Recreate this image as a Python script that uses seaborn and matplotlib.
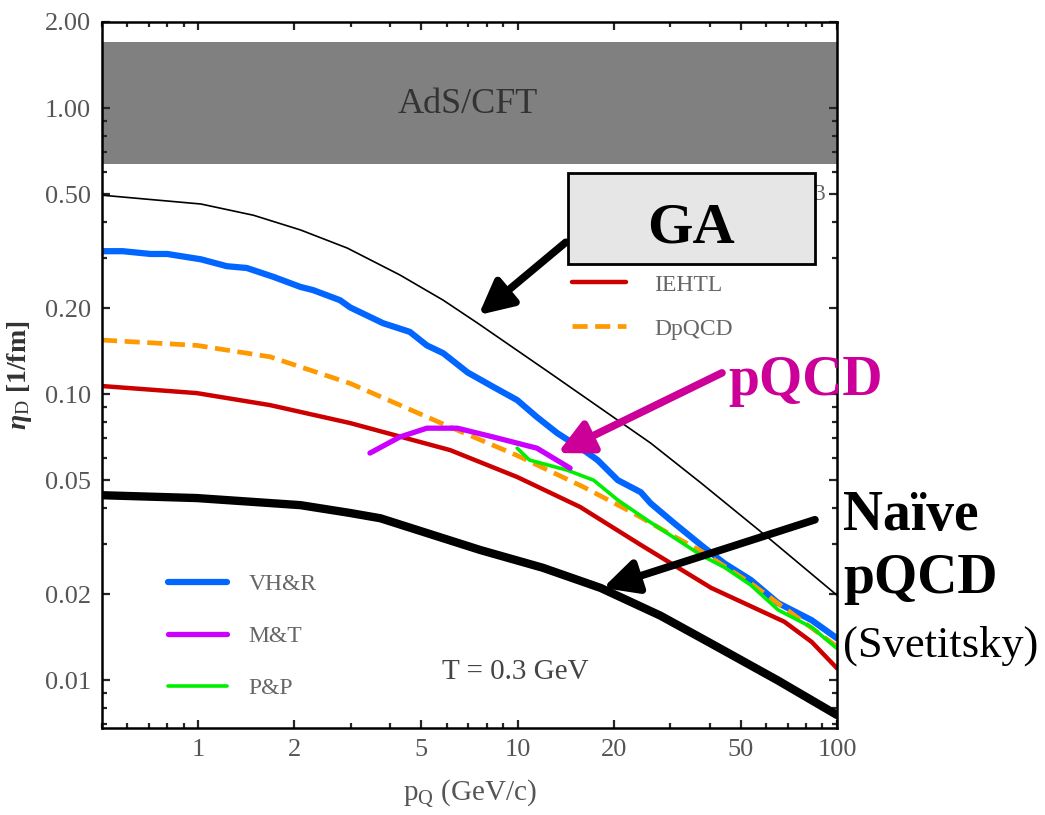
import pandas as pd
import matplotlib.pyplot as plt
import seaborn as sns
from matplotlib.ticker import FixedLocator, NullFormatter, LogLocator
from matplotlib.patches import Rectangle
from matplotlib.transforms import blended_transform_factory

# valores (p_Q em GeV/c, eta_D em 1/fm)
ga_x = [0.5, 1.02, 1.49, 2.09, 2.93, 4.28, 5.85, 7.5, 12.7, 26.1, 37.6, 62.1, 100]
ga_y = [0.496, 0.462, 0.422, 0.375, 0.324, 0.261, 0.213, 0.177, 0.118, 0.0674, 0.0488, 0.0309, 0.0198]

vhr_x = [0.5, 0.58, 0.71, 0.8, 1.02, 1.23, 1.42, 1.72, 2.09, 2.29, 2.78, 2.99, 3.79, 4.6, 5.2,
         5.85, 6.98, 8.39, 9.97, 11.5, 13.3, 16.1, 17.8, 20.6, 24.3, 26.1, 30.9, 37.6, 44.4,
         53.7, 65.4, 83.3, 100]
vhr_y = [0.316, 0.316, 0.309, 0.309, 0.296, 0.280, 0.276, 0.257, 0.237, 0.231, 0.213, 0.201,
         0.177, 0.165, 0.148, 0.139, 0.119, 0.106, 0.0953, 0.0831, 0.0731, 0.0637, 0.0588,
         0.050, 0.0454, 0.0415, 0.0354, 0.0296, 0.0256, 0.0224, 0.0186, 0.0162, 0.0140]

iehtl_x = [0.5, 0.99, 1.68, 2.99, 6.15, 9.97, 15.7, 24.3, 40.4, 68.4, 83.3, 100]
iehtl_y = [0.1067, 0.1008, 0.0915, 0.0792, 0.0637, 0.0513, 0.0403, 0.0297, 0.0210, 0.0160, 0.0136, 0.0110]

dpqcd_x = [0.5, 0.99, 1.68, 2.99, 6.15, 9.97, 16.1, 23.0, 30.9, 37.6, 53.7, 100]
dpqcd_y = [0.1545, 0.148, 0.135, 0.109, 0.0767, 0.061, 0.0473, 0.0384, 0.0318, 0.0282, 0.0218, 0.0131]

pp_x = [9.97, 10.9, 14.3, 17.3, 20.6, 25.5, 37.6, 44.4, 53.7, 65.4, 83.3, 100]
pp_y = [0.0647, 0.0588, 0.0542, 0.050, 0.0426, 0.0362, 0.0273, 0.0248, 0.0215, 0.0176, 0.0153, 0.0129]

mt_x = [3.45, 4.28, 5.2, 6.48, 8.39, 11.5, 14.6]
mt_y = [0.0622, 0.0708, 0.076, 0.076, 0.0708, 0.0647, 0.0551]

naive_x = [0.5, 0.99, 2.09, 2.99, 3.72, 7.64, 12.0, 18.2, 28.0, 40.0, 65.0, 100]
naive_y = [0.0443, 0.0433, 0.0409, 0.0384, 0.0368, 0.0285, 0.0247, 0.0210, 0.0168, 0.0135, 0.0100, 0.00755]

ads_lo, ads_hi = 0.637, 1.70
x_ticks = [1, 2, 5, 10, 20, 50, 100]
y_ticks = [0.01, 0.02, 0.05, 0.10, 0.20, 0.50, 1.00, 2.00]
y_tick_labels = ["0.01", "0.02", "0.05", "0.10", "0.20", "0.50", "1.00", "2.00"]

curvas = [("GA", ga_x, ga_y), ("VH&R", vhr_x, vhr_y), ("IEHTL", iehtl_x, iehtl_y),
          ("DpQCD", dpqcd_x, dpqcd_y), ("P&P", pp_x, pp_y), ("M&T", mt_x, mt_y),
          ("Naive", naive_x, naive_y)]
df = pd.concat([pd.DataFrame({"p": xs, "eta": ys, "modelo": nome}) for nome, xs, ys in curvas])

estilos = {
    "GA": dict(color="black", lw=1.2),
    "Naive": dict(color="black", lw=6),
    "IEHTL": dict(color="#cc0000", lw=3.2),
    "DpQCD": dict(color="#ff9900", lw=3.4, ls="--"),
    "P&P": dict(color="#00ee00", lw=2.6),
    "M&T": dict(color="#cc00ff", lw=3.8),
    "VH&R": dict(color="#0066ff", lw=4.5),
}

sns.set_theme(style="ticks")
plt.rcParams["font.family"] = ["Liberation Serif", "DejaVu Serif"]
plt.rcParams["mathtext.fontset"] = "custom"
plt.rcParams["mathtext.rm"] = "Liberation Serif"
plt.rcParams["mathtext.it"] = "Liberation Serif:italic"
plt.rcParams["mathtext.bf"] = "Liberation Serif:bold:italic"

fig = plt.figure(figsize=(10.45, 8.15), dpi=100)
ax = fig.add_axes([102 / 1045, 1 - 728 / 815, 735 / 1045, 706 / 815])

ax.axhspan(ads_lo, ads_hi, color="#808080", lw=0, zorder=0)
ax.text(0.498, 1.03, "AdS/CFT", transform=blended_transform_factory(ax.transAxes, ax.transData),
        ha="center", va="center", fontsize=26, color="#333333")

for nome in ["GA", "VH&R", "IEHTL", "DpQCD", "P&P", "M&T", "Naive"]:
    sub = df[df["modelo"] == nome]
    st = estilos[nome]
    sns.lineplot(data=sub, x="p", y="eta", ax=ax, color=st["color"], lw=st["lw"],
                 ls=st.get("ls", "-"), label=nome, legend=False, sort=True, estimator=None)

for ln in ax.get_lines():
    if ln.get_label() == "DpQCD":
        ln.set_dashes((3.2, 1.6))

ax.set_xscale("log")
ax.set_yscale("log")
ax.set_xlim(0.5, 100)
ax.set_ylim(0.0068, 2.0)
ax.xaxis.set_major_locator(FixedLocator(x_ticks))
ax.set_xticklabels([str(t) for t in x_ticks])
ax.yaxis.set_major_locator(FixedLocator(y_ticks))
ax.set_yticklabels(y_tick_labels)
ax.xaxis.set_minor_locator(LogLocator(subs=range(2, 10)))
ax.yaxis.set_minor_locator(LogLocator(subs=range(2, 10)))
ax.xaxis.set_minor_formatter(NullFormatter())
ax.yaxis.set_minor_formatter(NullFormatter())
ax.tick_params(which="both", direction="in", top=True, right=True, width=1.6,
               labelsize=19, labelcolor="#555555", pad=8)
ax.tick_params(which="major", length=6)
ax.tick_params(which="minor", length=3.5)
for s in ax.spines.values():
    s.set_linewidth(1.8)
    s.set_color("black")

ax.set_xlabel(r"$\mathrm{p_Q}$ (GeV/c)", fontsize=21, color="#555555", labelpad=12)
ax.set_ylabel(r"$\mathbf{\eta}_{\mathrm{D}}$ [1/fm]", fontsize=20, fontweight="bold",
              color="#333333", labelpad=8)

handles = {ln.get_label(): ln for ln in ax.get_lines()}
leg1 = ax.legend([handles["IEHTL"], handles["DpQCD"]], ["IEHTL", "DpQCD"], loc="upper left",
                 bbox_to_anchor=(0.639, 0.643), frameon=False, fontsize=17, handlelength=2.3,
                 handletextpad=1.2, labelspacing=0.95, borderpad=0, borderaxespad=0,
                 labelcolor="#666666")
ax.add_artist(leg1)
ax.legend([handles["VH&R"], handles["M&T"], handles["P&P"]], ["VH&R", "M&T", "P&P"],
          loc="upper left", bbox_to_anchor=(0.09, 0.219), frameon=False, fontsize=17,
          handlelength=2.5, handletextpad=0.9, labelspacing=1.3, borderpad=0,
          borderaxespad=0, labelcolor="#666666")

ax.text(0.985, 0.755, "3", transform=ax.transAxes, ha="right", va="center",
        fontsize=17, color="#666666", zorder=4)
ax.text(0.562, 0.079, "T = 0.3 GeV", transform=ax.transAxes, ha="center", va="center",
        fontsize=21, color="#444444")

# caixa do GA
ax.add_patch(Rectangle((0.634, 0.657), 0.336, 0.129, transform=ax.transAxes,
                       facecolor="#e6e6e6", edgecolor="black", lw=2, zorder=8, clip_on=False))
fig.text(0.661, 0.703, "GA", ha="center", va="baseline", fontsize=42, fontweight="bold",
         color="black", zorder=9)

seta = dict(arrowstyle="-|>,head_length=1.2,head_width=0.6", lw=5.5, color="black",
            shrinkA=0, shrinkB=0, mutation_scale=17)
ax.annotate("", xy=(7.55, 0.189), xycoords="data", xytext=(0.631, 0.688),
            textcoords="axes fraction", arrowprops=seta, zorder=7)
ax.annotate("", xy=(18.5, 0.021), xycoords="data", xytext=(0.970, 0.295),
            textcoords="axes fraction", arrowprops=seta, zorder=7)
seta_m = dict(seta, color="#cc0099")
ax.annotate("", xy=(13.35, 0.0622), xycoords="data", xytext=(0.8435, 0.503),
            textcoords="axes fraction", arrowprops=seta_m, zorder=7)

fig.text(0.6967, 0.5153, "pQCD", ha="left", va="baseline", fontsize=40, fontweight="bold",
         color="#cc0099")
fig.text(0.807, 0.3497, "Naïve", ha="left", va="baseline", fontsize=40, fontweight="bold",
         color="black")
fig.text(0.807, 0.2724, "pQCD", ha="left", va="baseline", fontsize=40, fontweight="bold",
         color="black")
fig.text(0.807, 0.194, "(Svetitsky)", ha="left", va="baseline", fontsize=32, color="black")

plt.savefig("out.png", dpi=100)
